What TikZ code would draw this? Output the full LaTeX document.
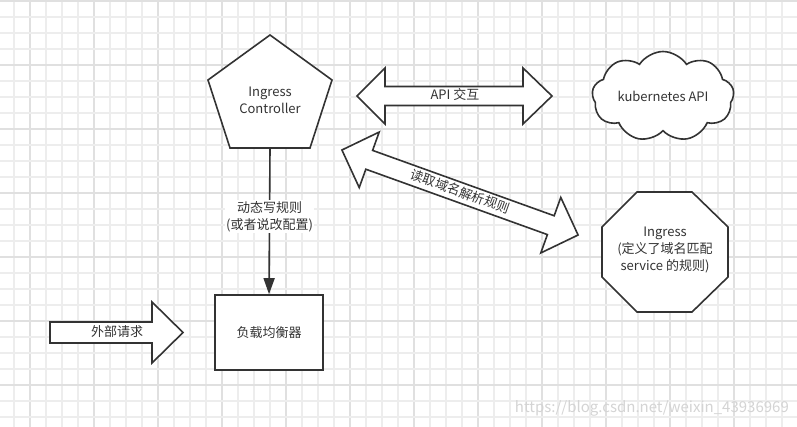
\documentclass[tikz,border=0pt]{standalone}
\usepackage{fontspec}
\setmainfont{Noto Sans CJK SC}
\usetikzlibrary{shapes.symbols,arrows.meta}
\definecolor{ink}{HTML}{333333}
\definecolor{gridminor}{HTML}{EDEDED}
\definecolor{gridmajor}{HTML}{E0E0E0}
\tikzset{
  shapeline/.style={draw=ink, line width=1.6pt, line join=miter, fill=white},
  lbl/.style={text=ink, font=\fontsize{13}{17}\selectfont, align=center, inner sep=1pt},
  flow/.style={draw=ink, line width=1.6pt, -{Triangle[length=16pt,width=11pt]}},
}
\begin{document}
\begin{tikzpicture}[x=1pt,y=-1pt]
\useasboundingbox (0,0) rectangle (797,427);
\fill[white] (0,0) rectangle (797,427);
% grid
\foreach \k in {0,...,48}{
  \pgfmathtruncatemacro{\m}{mod(\k,4)}
  \ifnum\m=1 \draw[gridmajor, line width=1.3pt] ({14+16*\k},0) -- ({14+16*\k},427);
  \else \draw[gridminor, line width=1.2pt] ({14+16*\k},0) -- ({14+16*\k},427); \fi
}
\foreach \k in {0,...,26}{
  \pgfmathtruncatemacro{\m}{mod(\k,4)}
  \ifnum\m=0 \draw[gridmajor, line width=1.3pt] (0,{1+16*\k}) -- (797,{1+16*\k});
  \else \draw[gridminor, line width=1.2pt] (0,{1+16*\k}) -- (797,{1+16*\k}); \fi
}
% Ingress Controller pentagon
\draw[shapeline] (270,35) -- (332,80) -- (310,148) -- (230,148) -- (208,80) -- cycle;
\node[lbl] (ctrl) at (270,100) {Ingress\\Controller};
\coordinate (pbot) at (270,148);
% load balancer box
\node[shapeline, minimum width=108pt, minimum height=75pt, inner sep=0] (lb) at (269,332.5) {};
\node[lbl] (lbtext) at (lb.center) {负载均衡器};
% write-rules arrow
\draw[flow] (pbot) -- (lb.north) node[pos=0.47, lbl, fill=white] (rule) {动态写规则\\(或者说改配置)};
% external request arrow
\draw[shapeline] (50,322) -- (152,322) -- (152,302) -- (183,332.5) -- (152,363) -- (152,343) -- (50,343) -- cycle;
\node[lbl] (ext) at (117,332) {外部请求};
% API double arrow
\draw[shapeline] (357,96) -- (385,68) -- (385,86.5) -- (523,86.5) -- (523,68) -- (552,96) -- (523,124) -- (523,105.5) -- (385,105.5) -- (385,124) -- cycle;
\node[lbl] (api) at (455,95) {API 交互};
% kubernetes API cloud
\node[cloud, cloud puffs=9, cloud puff arc=115, aspect=1.6, draw=ink, line width=1.6pt, fill=white, minimum width=142pt, minimum height=90pt, inner sep=0] (k8s) at (663,96.5) {};
\node[lbl] (k8stext) at (k8s.center) {kubernetes API};
% diagonal double arrow
\begin{scope}[shift={(460,192.5)}, rotate=-19.8]
\draw[shapeline] (-125.5,0) -- (-96.5,29.5) -- (-96.5,10) -- (96.5,10) -- (96.5,29.5) -- (125.5,0) -- (96.5,-29.5) -- (96.5,-10) -- (-96.5,-10) -- (-96.5,-29.5) -- cycle;
\node[lbl, rotate=-19.8] (read) at (0,-1) {读取域名解析规则};
\end{scope}
% Ingress octagon
\draw[shapeline] (637,192) -- (692,192) -- (728,227) -- (728,277) -- (692,312) -- (637,312) -- (602,277) -- (602,227) -- cycle;
\node[lbl] (ingress) at (665,250) {Ingress\\(定义了域名匹配\\service 的规则)};
% watermark
\node[anchor=east, text=black!17, font=\fontsize{15}{17}\selectfont, inner sep=0] (wm) at (789,408) {https://blog.csdn.net/weixin\_43936969};
\end{tikzpicture}
\end{document}
